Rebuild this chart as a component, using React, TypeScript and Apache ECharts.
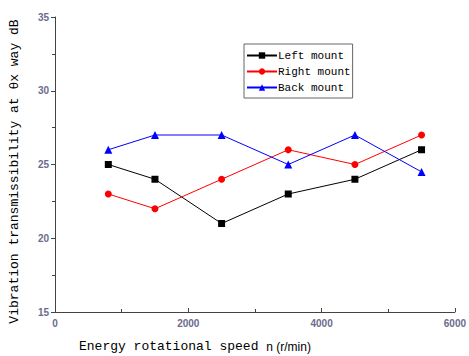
import React, { useEffect, useRef } from "react";
import * as echarts from "echarts";

const speeds = [800, 1500, 2500, 3500, 4500, 5500];
const leftMount = [25, 24, 21, 23, 24, 26];
const rightMount = [23, 22, 24, 26, 25, 27];
const backMount = [26, 27, 27, 25, 27, 24.5];
const seriesNames = ["Left mount", "Right mount", "Back mount"];

const mono = "'Liberation Mono', 'DejaVu Sans Mono', monospace";

export default function App() {
  const ref = useRef<HTMLDivElement>(null);
  useEffect(() => {
    const chart = echarts.init(ref.current!, null, { renderer: "svg" });
    const mk = (name: string, data: number[], color: string, symbol: string, size: number) => ({
      name,
      type: "line",
      data: speeds.map((s, i) => [s, data[i]]),
      symbol,
      symbolSize: size,
      lineStyle: { color, width: 1 },
      itemStyle: { color },
    });
    chart.setOption({
      animation: false,
      backgroundColor: "#fff",
      grid: { left: 54, top: 17, right: 11, bottom: 44 },
      legend: {
        orient: "vertical",
        left: 244,
        top: 44,
        padding: [6, 2, 5, 2],
        itemGap: 5,
        itemWidth: 30,
        itemHeight: 8,
        borderColor: "#666",
        borderWidth: 1,
        textStyle: { fontFamily: mono, fontSize: 11, color: "#000", padding: [0, 0, 0, -4] },
        data: seriesNames,
      },
      xAxis: {
        type: "value",
        min: 0,
        max: 6000,
        interval: 2000,
        name: "{a|Energy rotational speed }{b|n (r/min)}",
        nameLocation: "start",
        nameGap: 0,
        nameTextStyle: {
          align: "left",
          verticalAlign: "top",
          padding: [28, 0, 0, 24],
          rich: {
            a: { fontFamily: mono, fontSize: 13, color: "#000" },
            b: { fontFamily: "Arial", fontSize: 12, color: "#000" },
          },
        },
        axisLine: { lineStyle: { color: "#444" } },
        axisTick: { inside: true, length: 4, lineStyle: { color: "#444" } },
        minorTick: { show: true, splitNumber: 2, length: 3, lineStyle: { color: "#444" } },
        axisLabel: { color: "#6b6b8e", fontSize: 10, fontWeight: "bold", fontFamily: "Arial", margin: 6, formatter: (v: number) => String(v) },
        splitLine: { show: false },
      },
      yAxis: {
        type: "value",
        min: 15,
        max: 35,
        interval: 5,
        name: "Vibration transmissibility at θx way dB",
        nameLocation: "middle",
        nameGap: 34,
        nameTextStyle: { fontFamily: mono, fontSize: 13, color: "#000", padding: [0, 14, 0, 0] },
        axisLine: { show: true, lineStyle: { color: "#444" } },
        axisTick: { show: true, length: 4, lineStyle: { color: "#444" } },
        minorTick: { show: true, splitNumber: 2, length: 3, lineStyle: { color: "#444" } },
        axisLabel: { color: "#6b6b8e", fontSize: 10, fontWeight: "bold", fontFamily: "Arial", margin: 6 },
        splitLine: { show: false },
      },
      series: [
        mk(seriesNames[0], leftMount, "#000000", "rect", 7),
        mk(seriesNames[1], rightMount, "#ff0000", "circle", 7),
        mk(seriesNames[2], backMount, "#0000ff", "triangle", 8),
      ],
    });
    return () => chart.dispose();
  }, []);
  return <div ref={ref} style={{ width: 469, height: 356, position: "absolute", left: 0, top: 0 }} />;
}
